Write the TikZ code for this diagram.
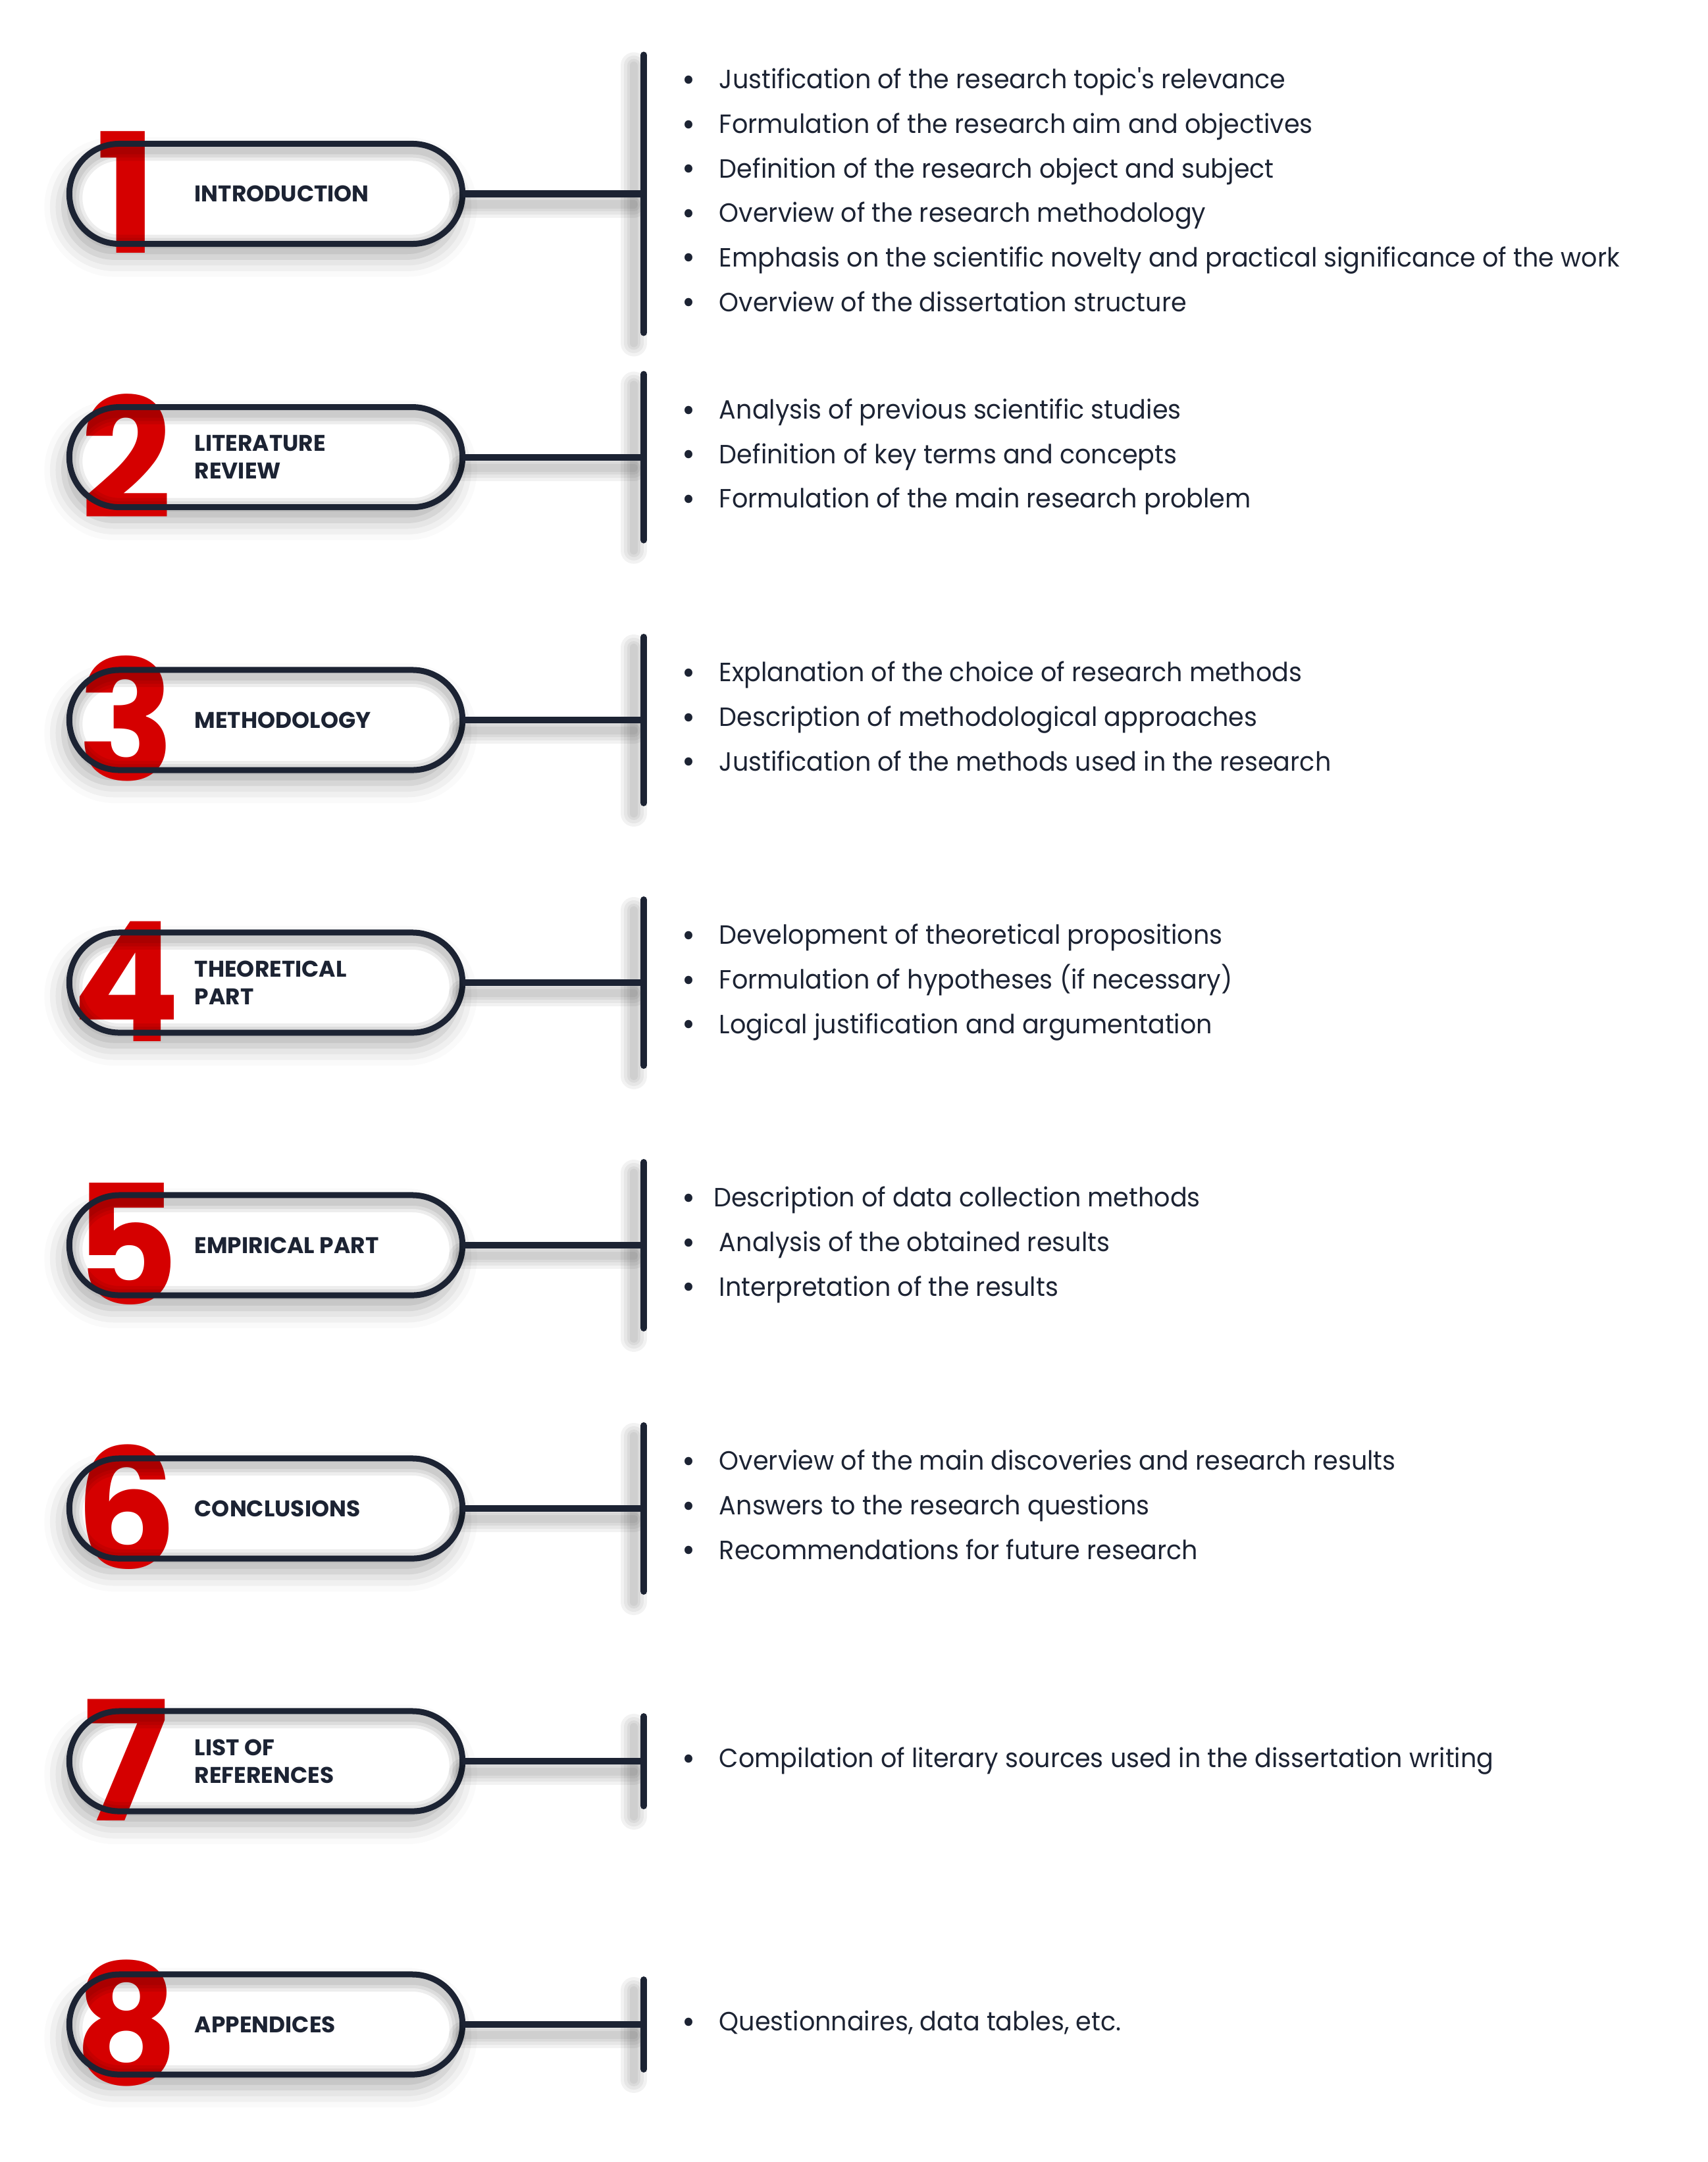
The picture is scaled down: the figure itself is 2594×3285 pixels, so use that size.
\documentclass[tikz,border=0pt]{standalone}
\usepackage{fontspec}
\setmainfont{Poppins}
\newfontfamily\itemfont{Poppins}[FakeStretch=0.95]
\newfontfamily\digitfont{Poppins}[FakeStretch=0.96]
\usetikzlibrary{shadows.blur}
\definecolor{ink}{HTML}{1C2333}
\definecolor{numred}{HTML}{D50000}
\newcommand\dotmark[1][16pt]{\makebox[#1][l]{\raisebox{-1pt}{\fontsize{14.5}{14.5}\selectfont\textbullet}}}

\begin{document}
\begin{tikzpicture}[
  x=0.01cm,y=-0.01cm,
  capsule/.style={minimum width=5.97cm,minimum height=1.52cm,rounded corners=0.76cm,inner sep=0pt,outer sep=0pt,fill=white,
    blur shadow={shadow xshift=-0.8mm,shadow yshift=-2mm,shadow blur radius=3mm,shadow opacity=32}},
  capline/.style={draw=ink,line width=0.09cm,rounded corners=0.76cm},
  digit/.style={text=numred,inner sep=0pt,font=\digitfont\fontsize{72}{72}\selectfont\bfseries},
  heading/.style={anchor=west,inner sep=0pt,align=left,text=ink,font=\fontsize{9.8}{11.95}\selectfont\bfseries},
  link/.style={draw=ink,line width=0.1cm},
  bar/.style={draw=ink,line width=0.1cm,line cap=round},
  glow/.style={draw=black,opacity=0.05,line cap=round},
  item/.style={anchor=base west,inner sep=0pt,text=ink,font=\itemfont\fontsize{11.4}{13}\selectfont}
]
\useasboundingbox (0,0) rectangle (2594,3285);

% capsules, numbers and connectors
\foreach \c/\d/\lab/\h [count=\k] in {294.5/1/INTRODUCTION/211,694.6/2/{LITERATURE\\REVIEW}/126,
  1094/3/METHODOLOGY/126,1493/4/{THEORETICAL\\PART}/126,1892/5/EMPIRICAL PART/126,
  2292/6/CONCLUSIONS/126,2676/7/{LIST OF\\REFERENCES}/68,3076/8/APPENDICES/68}{
  \node[capsule] (cap\k) at (404,\c) {};
  \node[digit] (num\k) at (192,\c-2) {\d};
  \begin{scope}
    \clip[rounded corners=0.76cm] (cap\k.north west) rectangle (cap\k.south east);
    \foreach \w in {0.4,0.3,0.2}
      \draw[glow,opacity=0.07,line width=\w cm,rounded corners=0.76cm] ([yshift=-0.06cm]cap\k.north west) rectangle ([yshift=-0.06cm]cap\k.south east);
  \end{scope}
  \draw[capline] (cap\k.north west) rectangle (cap\k.south east);
  \node[heading] (head\k) at (295,\c) {\lab};
  \coordinate (hub\k) at (978,\c);
  \coordinate (top\k) at (978,\c-\h);
  \coordinate (bot\k) at (978,\c+\h);
  \foreach \w in {0.4,0.3,0.2,0.12}{
    \draw[glow,line width=\w cm] ([shift={(0,16)}]cap\k.east) -- ([shift={(-15,16)}]hub\k);
    \draw[glow,line width=\w cm] ([shift={(-15,16)}]top\k) -- ([shift={(-15,16)}]bot\k);
  }
  \draw[link] (cap\k.east) -- (hub\k);
  \draw[bar] (top\k) -- (bot\k);
}

\node[item] (t1a) at (1036,135) {\dotmark Justification of the research topic\textquotesingle s relevance};
\node[item] (t1b) at (1036,202.6) {\dotmark Formulation of the research aim and objectives};
\node[item] (t1c) at (1036,270.2) {\dotmark Definition of the research object and subject};
\node[item] (t1d) at (1036,337.8) {\dotmark Overview of the research methodology};
\node[item] (t1e) at (1036,405.4) {\dotmark Emphasis on the scientific novelty and practical significance of the work};
\node[item] (t1f) at (1036,473) {\dotmark Overview of the dissertation structure};

\node[item] (t2a) at (1036,636.5) {\dotmark Analysis of previous scientific studies};
\node[item] (t2b) at (1036,704.1) {\dotmark Definition of key terms and concepts};
\node[item] (t2c) at (1036,771.7) {\dotmark Formulation of the main research problem};

\node[item] (t3a) at (1036,1035.9) {\dotmark Explanation of the choice of research methods};
\node[item] (t3b) at (1036,1103.5) {\dotmark Description of methodological approaches};
\node[item] (t3c) at (1036,1171.1) {\dotmark Justification of the methods used in the research};

\node[item] (t4a) at (1036,1434.9) {\dotmark Development of theoretical propositions};
\node[item] (t4b) at (1036,1502.5) {\dotmark Formulation of hypotheses (if necessary)};
\node[item] (t4c) at (1036,1570.1) {\dotmark Logical justification and argumentation};

\node[item] (t5a) at (1036,1833.9) {\dotmark[13.5pt]Description of data collection methods};
\node[item] (t5b) at (1036,1901.5) {\dotmark Analysis of the obtained results};
\node[item] (t5c) at (1036,1969.1) {\dotmark Interpretation of the results};

\node[item] (t6a) at (1036,2233.9) {\dotmark Overview of the main discoveries and research results};
\node[item] (t6b) at (1036,2301.5) {\dotmark Answers to the research questions};
\node[item] (t6c) at (1036,2369.1) {\dotmark Recommendations for future research};

\node[item] (t7a) at (1036,2685.5) {\dotmark Compilation of literary sources used in the dissertation writing};

\node[item] (t8a) at (1036,3085.5) {\dotmark Questionnaires, data tables, etc.};
\end{tikzpicture}
\end{document}
